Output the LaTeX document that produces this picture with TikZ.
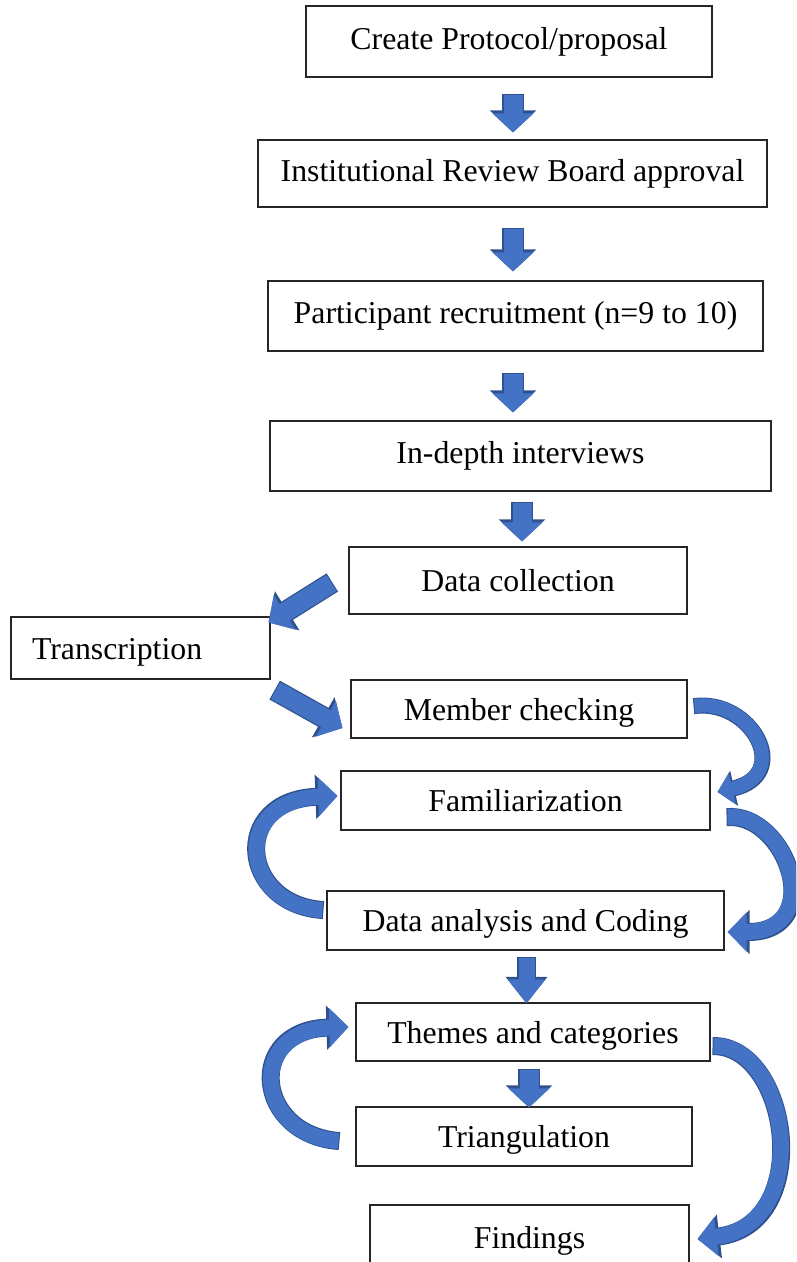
\documentclass[tikz,border=0pt]{standalone}
\usepackage{fontspec}
\setmainfont{Liberation Serif}
\usetikzlibrary{arrows.meta,calc}
\definecolor{arrblue}{HTML}{4472C4}
\definecolor{arrdark}{HTML}{2F528F}
\begin{document}
\begin{tikzpicture}[x=1pt,y=-1pt,
  box/.style={draw=black!85, line width=1.1pt, inner sep=0pt, anchor=center,
    font=\fontsize{31.8}{36}\selectfont},
  lowtext/.style={text height=29.5pt, text depth=7pt},
  blockarr/.style={draw=arrblue, line width=19pt, -{Triangle[width=40pt,length=19pt]},
    preaction={draw=arrdark, line width=21.5pt, -{Triangle[width=45pt,length=22pt]}, shorten <=-1pt}},
  narrowarr/.style={draw=arrblue, line width=16pt, -{Triangle[width=36pt,length=24pt]},
    preaction={draw=arrdark, line width=18.5pt, -{Triangle[width=40pt,length=26.5pt]}, shorten <=-1pt}},
  curvarr/.style={draw=arrblue, line width=16pt, -{Triangle[width=38pt,length=19pt]},
    preaction={draw=arrdark, line width=18pt, -{Triangle[width=43pt,length=22pt]}, shorten <=-1pt}},
  smallcurv/.style={draw=arrblue, line width=14pt, -{Triangle[width=31pt,length=15pt]},
    preaction={draw=arrdark, line width=16pt, -{Triangle[width=35pt,length=17pt]}, shorten <=-1pt}}
]
\useasboundingbox (0,0) rectangle (796,1262);
\clip (0,0) rectangle (796,1262);

% boxes
\node[box, minimum width=406pt, minimum height=71pt] (b1) at (509,41.5) {Create Protocol/proposal};
\node[box, minimum width=509pt, minimum height=67pt] (b2) at (512.5,173.5) {Institutional Review Board approval};
\node[box, minimum width=495pt, minimum height=70pt] (b3) at (515.5,316) {Participant recruitment (n=9 to 10)};
\node[box, minimum width=501pt, minimum height=70pt] (b4) at (520.5,456) {In-depth interviews};
\node[box, minimum width=338pt, minimum height=67pt] (b5) at (518,580.5) {Data collection};
\node[box, lowtext, text width=217pt, inner xsep=21pt, align=left, minimum height=62pt] (b6) at (140.5,648) {Transcription};
\node[box, lowtext, minimum width=336pt, minimum height=58pt] (b7) at (519,709) {Member checking};
\node[box, minimum width=369pt, minimum height=59pt] (b8) at (525.5,800.5) {Familiarization};
\node[box, lowtext, minimum width=397pt, minimum height=59pt] (b9) at (525.5,920.5) {Data analysis and Coding};
\node[box, lowtext, minimum width=354pt, minimum height=58pt] (b10) at (533,1032) {Themes and categories};
\node[box, lowtext, minimum width=336pt, minimum height=59pt] (b11) at (524,1136.5) {Triangulation};
\node[box, lowtext, minimum width=319pt, minimum height=64pt] (b12) at (529.5,1237) {Findings};

% straight block arrows
\draw[blockarr] ($(b1.south)+(4,17)$) -- ($(b2.north)+(0.5,-7)$);
\draw[blockarr] ($(b2.south)+(0.5,21)$) -- ($(b3.north)+(-2.5,-9)$);
\draw[blockarr] ($(b3.south)+(-2.5,22)$) -- ($(b4.north)+(-7.5,-8)$);
\draw[blockarr] ($(b4.south)+(1.5,11)$) -- ($(b5.north)+(4,-5)$);
\draw[narrowarr] ($(b9.south)+(1,7)$) -- ($(b10.north)+(-6.5,1)$);
\draw[blockarr] ($(b10.south)+(-4,8)$) -- ($(b11.north)+(5,1)$);
\draw[blockarr] ($(b5.west)+(-17,2.5)$) -- ($(b6.north east)+(-2,6)$);
\draw[blockarr] ($(b6.south east)+(5,11)$) -- ($(b7.west)+(-8,19)$);

% curved arrows
\draw[smallcurv] ($(b7.east)+(7,-3)$) .. controls (752,698) and (793,775) .. ($(b8.east)+(7,-8.5)$);
\draw[curvarr] ($(b8.east)+(17,16.5)$) .. controls (787,812) and (828,932) .. ($(b9.east)+(3,11.5)$);
\draw[curvarr] ($(b9.west)+(-4,-10.5)$) .. controls (240,905) and (230,800) .. ($(b8.west)+(-3,-4.5)$);
\draw[curvarr] ($(b11.west)+(-17,4.5)$) .. controls (255,1135) and (245,1030) .. ($(b10.west)+(-7,-5)$);
\draw[curvarr] ($(b10.east)+(3,14)$) .. controls (790,1045) and (815,1225) .. ($(b12.east)+(8,2)$);
\end{tikzpicture}
\end{document}
